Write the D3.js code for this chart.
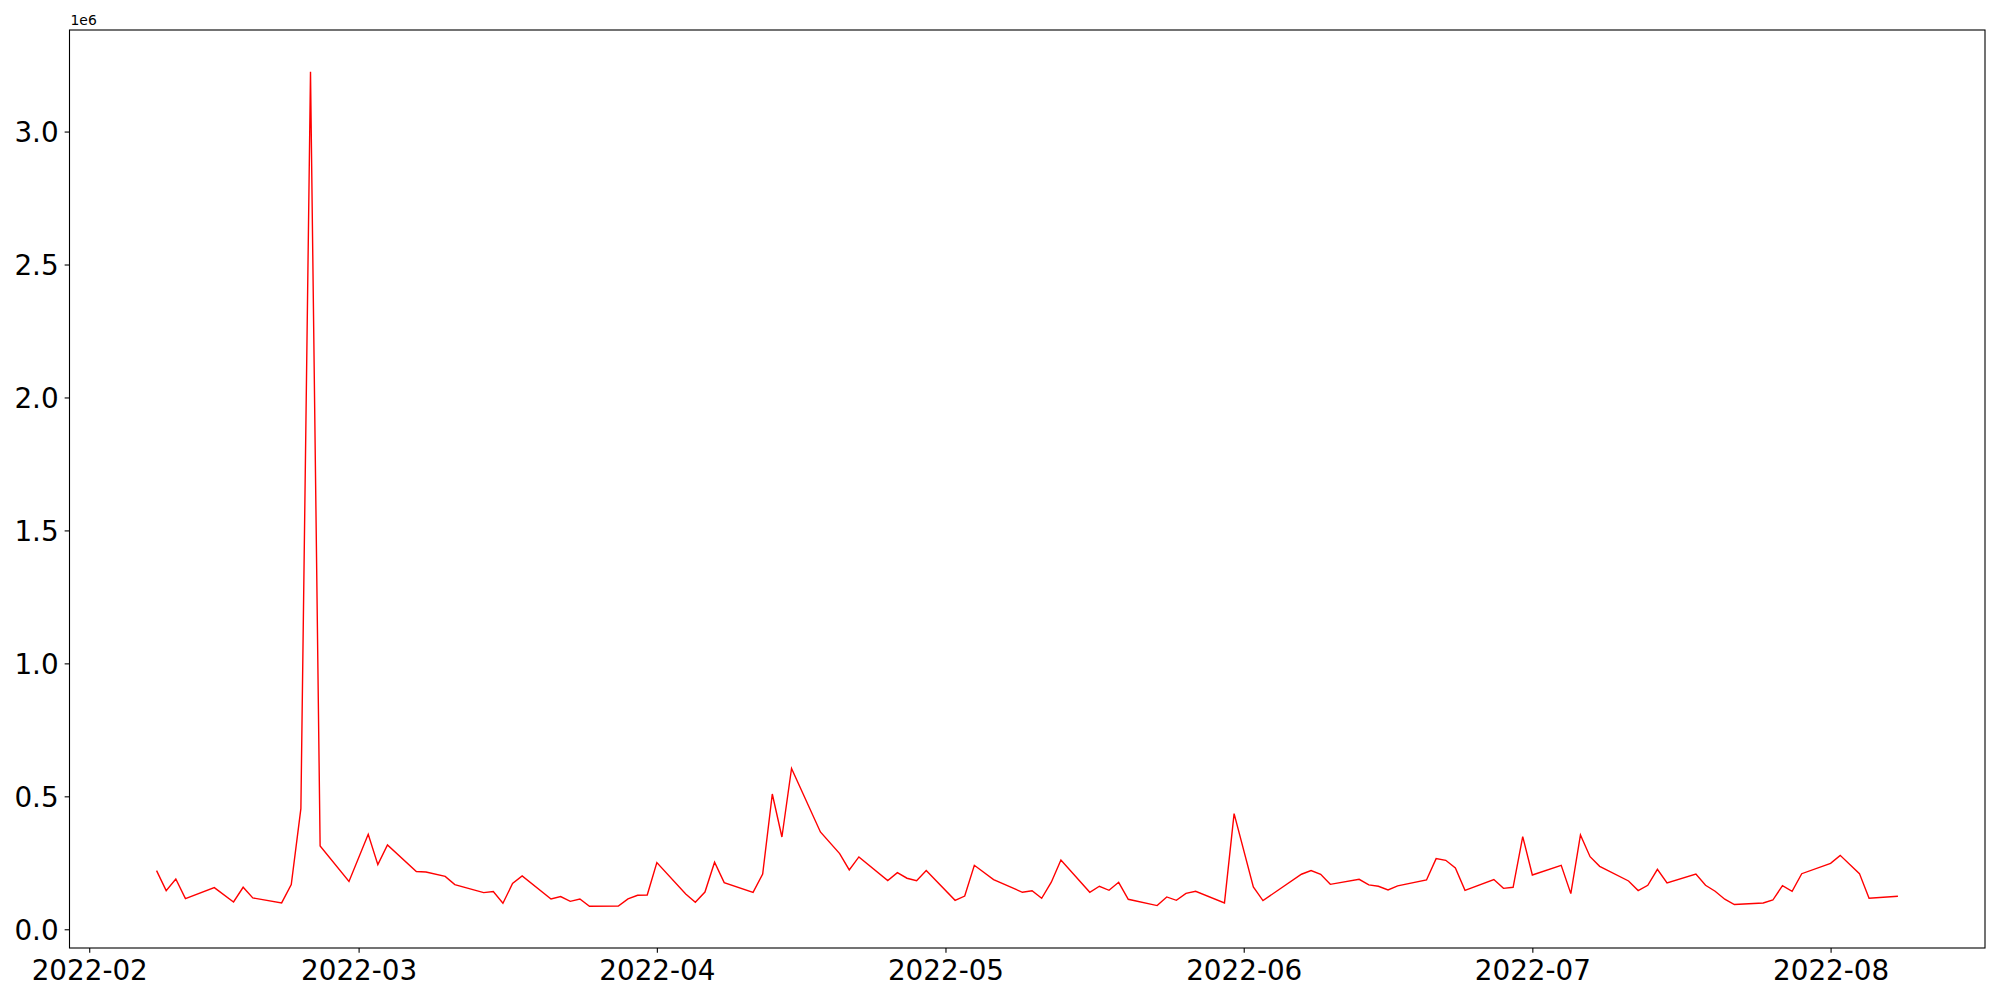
<!DOCTYPE html>
<html>
<head>
<meta charset="utf-8">
<script src="https://cdn.jsdelivr.net/npm/d3@7"></script>
<style>
  body { margin: 0; background: #fff; }
  svg text { font-family: "DejaVu Sans", sans-serif; fill: #000; }
</style>
</head>
<body>
<div id="chart"></div>
<script>
// trading days and values
var dates = [
  "2022-02-08","2022-02-09","2022-02-10","2022-02-11","2022-02-14","2022-02-16","2022-02-17","2022-02-18",
  "2022-02-21","2022-02-22","2022-02-23","2022-02-24","2022-02-25","2022-02-28",
  "2022-03-02","2022-03-03","2022-03-04","2022-03-07","2022-03-08","2022-03-10","2022-03-11",
  "2022-03-14","2022-03-15","2022-03-16","2022-03-17","2022-03-18","2022-03-21","2022-03-22","2022-03-23",
  "2022-03-24","2022-03-25","2022-03-28","2022-03-29","2022-03-30","2022-03-31",
  "2022-04-01","2022-04-04","2022-04-05","2022-04-06","2022-04-07","2022-04-08","2022-04-11","2022-04-12",
  "2022-04-13","2022-04-14","2022-04-15","2022-04-18","2022-04-20","2022-04-21","2022-04-22","2022-04-25",
  "2022-04-26","2022-04-27","2022-04-28","2022-04-29",
  "2022-05-02","2022-05-03","2022-05-04","2022-05-06","2022-05-09","2022-05-10","2022-05-11","2022-05-12",
  "2022-05-13","2022-05-16","2022-05-17","2022-05-18","2022-05-19","2022-05-20","2022-05-23","2022-05-24",
  "2022-05-25","2022-05-26","2022-05-27","2022-05-30","2022-05-31",
  "2022-06-02","2022-06-03","2022-06-07","2022-06-08","2022-06-09","2022-06-10","2022-06-13","2022-06-14",
  "2022-06-15","2022-06-16","2022-06-17","2022-06-20","2022-06-21","2022-06-22","2022-06-23","2022-06-24",
  "2022-06-27","2022-06-28","2022-06-29","2022-06-30",
  "2022-07-01","2022-07-04","2022-07-05","2022-07-06","2022-07-07","2022-07-08","2022-07-11","2022-07-12",
  "2022-07-13","2022-07-14","2022-07-15","2022-07-18","2022-07-19","2022-07-20","2022-07-21","2022-07-22",
  "2022-07-25","2022-07-26","2022-07-27","2022-07-28","2022-07-29",
  "2022-08-01","2022-08-02","2022-08-04","2022-08-05","2022-08-08"
];
var values = [
  220600,145400,189000,115300,156600,102800,158000,117800,
  99000,168000,453600,3225000,313000,180000,
  357000,243000,317000,217000,215600,199000,168000,
  138000,142000,97700,172000,200500,114000,123000,105000,
  114000,86500,87600,114000,128000,129000,
  250600,133000,101500,140000,252000,175400,139000,208000,
  508700,347000,605000,366000,284600,223000,272000,183000,
  213000,192000,183000,221000,
  109000,125000,240600,187000,139000,145000,116500,177000,
  260600,139000,161700,146600,176700,112800,89000,121600,
  109000,135000,142800,99000,435000,
  159000,108000,207000,220600,207000,169000,188000,166700,
  161700,147800,163000,185500,265700,259400,230600,146600,
  187000,154000,158000,348400,
  204000,240600,134000,354600,273000,236800,181700,145400,
  165400,225600,174000,208000,165400,143000,113000,93000,
  99000,110000,164000,143000,209000,
  248000,278000,209300,116500,124000
];
var xTickMonths = ["2022-02-01","2022-03-01","2022-04-01","2022-05-01","2022-06-01","2022-07-01","2022-08-01"];
var yTickValues = [0, 500000, 1000000, 1500000, 2000000, 2500000, 3000000];

var W = 2000, H = 1000;
var margin = { left: 69.5, right: 15, top: 30, bottom: 52 };
var parse = d3.utcParse("%Y-%m-%d");
var points = dates.map(function (d, i) { return { date: parse(d), value: values[i] }; });

// matplotlib-like 5% padding
function pad(ext) {
    var span = ext[1] - ext[0];
    return [ext[0] - span * 0.05, ext[1] + span * 0.05];
}
var xExt = d3.extent(points, function (d) { return +d.date; });
var yExt = d3.extent(points, function (d) { return d.value; });
var xDom = pad(xExt);
var yDom = pad(yExt);

var x = d3.scaleUtc()
    .domain([new Date(xDom[0]), new Date(xDom[1])])
    .range([margin.left, W - margin.right]);
var y = d3.scaleLinear()
    .domain(yDom)
    .range([H - margin.bottom, margin.top]);

var svg = d3.select("#chart").append("svg")
    .attr("width", W)
    .attr("height", H);

var line = d3.line()
    .x(function (d) { return x(d.date); })
    .y(function (d) { return y(d.value); });

svg.append("path")
    .datum(points)
    .attr("d", line)
    .attr("fill", "none")
    .attr("stroke", "#ff0000")
    .attr("stroke-width", 1.4)
    .attr("stroke-linejoin", "miter");

var tickLen = 4.86;
var xAxis = d3.axisBottom(x)
    .tickValues(xTickMonths.map(parse))
    .tickFormat(d3.utcFormat("%Y-%m"))
    .tickSize(tickLen)
    .tickPadding(6);
var yAxis = d3.axisLeft(y)
    .tickValues(yTickValues)
    .tickFormat(function (d) { return (d / 1e6).toFixed(1); })
    .tickSize(tickLen)
    .tickPadding(6);

var gx = svg.append("g")
    .attr("transform", "translate(0," + (H - margin.bottom) + ")")
    .call(xAxis);
var gy = svg.append("g")
    .attr("transform", "translate(" + margin.left + ",0)")
    .call(yAxis);

[gx, gy].forEach(function (g) {
    g.select(".domain").remove();
    g.selectAll(".tick line").attr("stroke", "#000").attr("stroke-width", 1.1);
    g.selectAll(".tick text")
        .style("font-family", "'DejaVu Sans', sans-serif")
        .style("font-size", "27.8px")
        .attr("fill", "#000");
});
gx.selectAll(".tick text").attr("dy", "0.76em");
gy.selectAll(".tick text").attr("dy", "0.36em");

// frame
svg.append("rect")
    .attr("x", margin.left)
    .attr("y", margin.top)
    .attr("width", W - margin.right - margin.left)
    .attr("height", H - margin.bottom - margin.top)
    .attr("fill", "none")
    .attr("stroke", "#000")
    .attr("stroke-width", 1.1);

// offset label
svg.append("text")
    .attr("x", margin.left + 1)
    .attr("y", margin.top - 5)
    .style("font-size", "13.9px")
    .text("1e6");
</script>
</body>
</html>
